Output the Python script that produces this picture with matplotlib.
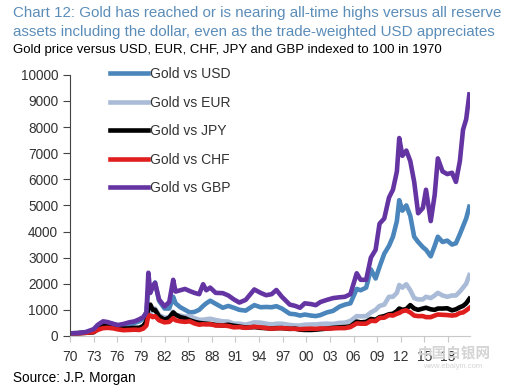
import matplotlib.pyplot as plt

plt.rcParams['font.family'] = ['Liberation Sans', 'DejaVu Sans']

# decimal years of the sampled points
years = [1970.0, 1971.0, 1972.0, 1973.0, 1973.5, 1974.2, 1974.8, 1975.5, 1976.1, 1976.8,
         1977.5, 1978.2, 1978.8, 1979.3, 1979.7, 1979.95, 1980.2, 1980.5, 1980.8, 1981.3,
         1982.0, 1982.6, 1983.1, 1983.4, 1984.0, 1984.6, 1985.2, 1985.8, 1986.4, 1986.9,
         1987.3, 1987.8, 1988.5, 1989.4, 1990.1, 1990.8, 1991.5, 1992.3, 1993.4, 1994.2,
         1994.9, 1995.6, 1996.2, 1996.9, 1997.9, 1998.6, 1999.2, 1999.8, 2000.6, 2001.2,
         2001.8, 2002.6, 2003.4, 2004.2, 2004.9, 2005.6, 2006.4, 2006.9, 2007.6, 2008.2,
         2008.8, 2009.3, 2009.9, 2010.5, 2011.0, 2011.5, 2011.8, 2012.2, 2012.7, 2013.2,
         2013.7, 2014.2, 2014.8, 2015.2, 2015.8, 2016.3, 2016.7, 2017.3, 2017.9, 2018.5,
         2019.0, 2019.5, 2019.9, 2020.3, 2020.7]

gold_usd = [100, 110, 140, 190, 340, 470, 500, 460, 380, 340,
            410, 500, 560, 660, 920, 1800, 1700, 1850, 2050, 1350,
            1050, 1050, 1500, 1250, 1100, 1000, 900, 920, 1000, 1150,
            1250, 1350, 1230, 1080, 1150, 1080, 1000, 970, 1180, 1100,
            1110, 1100, 1140, 1050, 850, 830, 780, 820, 780, 760,
            800, 900, 960, 1120, 1200, 1250, 1800, 1750, 1850, 2550,
            2200, 2650, 3150, 3450, 3800, 4400, 5200, 4800, 5000, 4600,
            3800, 3600, 3400, 3300, 3050, 3450, 3800, 3600, 3650, 3500,
            3550, 3900, 4200, 4500, 4950]

gold_eur = [100, 105, 130, 170, 260, 350, 360, 330, 270, 250,
            280, 300, 320, 380, 520, 950, 900, 950, 1050, 800,
            700, 720, 930, 800, 780, 740, 760, 680, 620, 620,
            640, 660, 610, 560, 550, 470, 470, 430, 520, 510,
            470, 440, 470, 470, 420, 400, 400, 430, 440, 440,
            460, 470, 460, 500, 510, 570, 760, 750, 760, 900,
            1000, 1150, 1200, 1500, 1500, 1650, 1950, 1850, 1980, 1750,
            1450, 1400, 1400, 1500, 1450, 1550, 1650, 1550, 1500, 1550,
            1550, 1700, 1850, 2000, 2330]

gold_jpy = [100, 105, 120, 140, 260, 400, 420, 380, 320, 280,
            290, 310, 310, 380, 560, 1150, 1200, 1000, 1000, 750,
            620, 700, 900, 820, 720, 680, 600, 540, 500, 480,
            470, 460, 420, 400, 430, 390, 360, 320, 340, 310,
            300, 280, 300, 300, 270, 280, 240, 230, 230, 240,
            260, 280, 310, 330, 340, 370, 550, 520, 540, 650,
            620, 720, 760, 830, 850, 950, 1050, 1000, 1030, 1180,
            1050, 1000, 1050, 1080, 1020, 1000, 1050, 1050, 1060, 980,
            1020, 1100, 1150, 1250, 1420]

gold_chf = [100, 100, 120, 150, 230, 300, 310, 290, 250, 220,
            230, 240, 230, 280, 400, 800, 780, 720, 760, 600,
            520, 540, 680, 600, 560, 540, 560, 480, 430, 450,
            440, 450, 400, 400, 380, 330, 340, 310, 350, 330,
            300, 280, 290, 300, 280, 270, 260, 270, 280, 270,
            290, 280, 290, 300, 300, 340, 480, 470, 470, 580,
            570, 690, 700, 800, 780, 850, 880, 950, 980, 900,
            780, 760, 760, 720, 720, 780, 820, 810, 800, 780,
            800, 880, 900, 980, 1070]

gold_gbp = [100, 110, 150, 260, 420, 560, 530, 460, 420, 460,
            520, 560, 640, 720, 900, 2420, 1650, 1900, 2030, 1400,
            1130, 1300, 2150, 1700, 1750, 1800, 1720, 1650, 1600, 1980,
            1750, 1850, 1650, 1640, 1550, 1400, 1280, 1380, 1780, 1650,
            1560, 1600, 1760, 1500, 1200, 1150, 1080, 1250, 1220, 1180,
            1300, 1380, 1450, 1480, 1500, 1600, 2400, 2150, 2150, 3000,
            3300, 4300, 4500, 5300, 5600, 6300, 7580, 6900, 7100, 6700,
            5900, 4700, 4900, 5600, 4400, 5400, 6800, 6300, 6200, 6250,
            5900, 6700, 7900, 8300, 9250]

series_names = ['Gold vs USD', 'Gold vs EUR', 'Gold vs JPY', 'Gold vs CHF', 'Gold vs GBP']
series_vals = [gold_usd, gold_eur, gold_jpy, gold_chf, gold_gbp]
colors = ['#4a86bc', '#a9bbd6', '#000000', '#e01e1e', '#6534a3']

tick_years = list(range(1970, 2019, 3))
tick_labels = ['%02d' % (y % 100) for y in tick_years]

fig = plt.figure(figsize=(5.11, 3.92), dpi=100)
ax = fig.add_axes([0.137, 0.143, 0.783, 0.666])

for name, vals, c in zip(series_names, series_vals, colors):
    ax.plot(years, vals, color=c, lw=3.3, label=name)

ax.set_xlim(1970, 2020.8)
ax.set_ylim(0, 10000)
ax.set_yticks(range(0, 10001, 1000))
ax.set_xticks(tick_years)
ax.set_xticklabels(tick_labels)

for s in ['top', 'right']:
    ax.spines[s].set_visible(False)
ax.spines['left'].set_color('#444444')
ax.spines['bottom'].set_color('#c8c8c8')
ax.tick_params(axis='y', direction='out', length=5, colors='#444444', labelsize=9.8, labelcolor='#333333')
ax.tick_params(axis='x', direction='out', length=4, colors='#c8c8c8', labelsize=10, labelcolor='#333333', pad=6)

ax.legend(loc='upper left', bbox_to_anchor=(110 / 511, 1 - 67 / 392), bbox_transform=fig.transFigure,
          frameon=False, fontsize=10, handlelength=2.7, handletextpad=0.2, labelspacing=1.05,
          borderpad=0, borderaxespad=0, labelcolor='#333333')

title_color = '#5b8db9'
fig.text(13 / 511, 1 - 13 / 392, 'Chart 12: Gold has reached or is nearing all-time highs versus all reserve',
         color=title_color, fontsize=10.9, va='center', ha='left')
fig.text(13 / 511, 1 - 32 / 392, 'assets including the dollar, even as the trade-weighted USD appreciates',
         color=title_color, fontsize=10.9, va='center', ha='left')
fig.text(13 / 511, 1 - 50 / 392, 'Gold price versus USD, EUR, CHF, JPY and GBP indexed to 100 in 1970',
         color='black', fontsize=9.5, va='center', ha='left')
fig.text(13 / 511, 1 - 378 / 392, 'Source: J.P. Morgan', color='black', fontsize=9.8, va='center', ha='left')

# watermark
fig.text(418 / 511, 1 - 353 / 392, '中国白银网', family=['Noto Sans CJK SC', 'DejaVu Sans'],
         color='#d4d4d4', fontsize=10.5, fontweight='bold', va='center', ha='left')
fig.text(423 / 511, 1 - 366 / 392, 'www.ebaiyin.com', color='#d4d4d4', fontsize=5.5, va='center', ha='left')

fig.savefig('out.png', dpi=100)
